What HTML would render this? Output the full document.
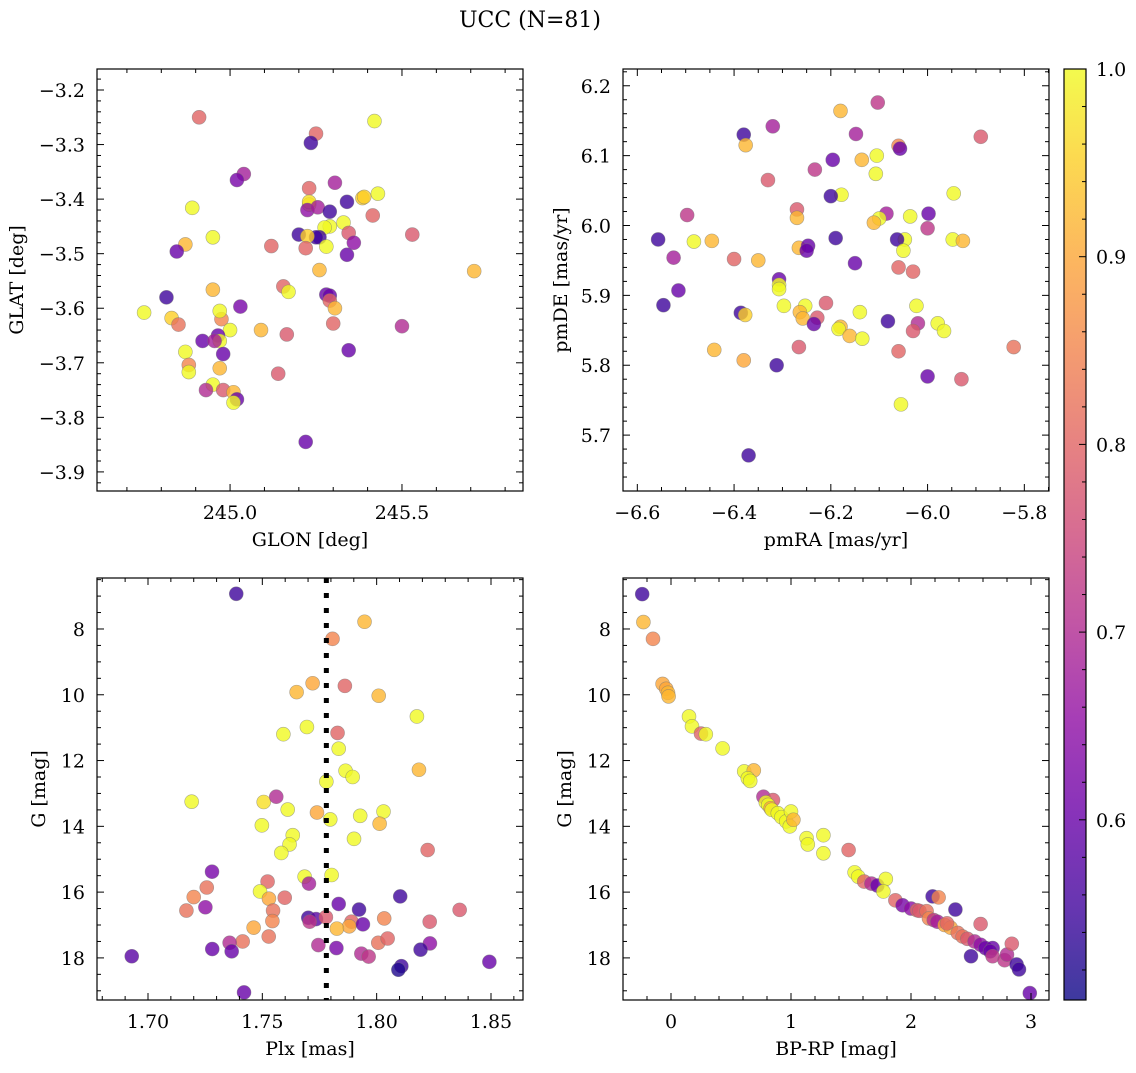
<!DOCTYPE html>
<html><head><meta charset="utf-8"><style>
html,body{margin:0;padding:0;background:#fff}
svg text{font-family:"DejaVu Serif","Liberation Serif",serif;fill:#000}
</style></head><body>
<svg id="fig" width="1136" height="1068" viewBox="0 0 1136 1068" xmlns="http://www.w3.org/2000/svg">
<text x="530" y="27" font-size="22" text-anchor="middle">UCC (N=81)</text>
<defs><linearGradient id="cbg" x1="0" y1="1" x2="0" y2="0"></linearGradient></defs>
</svg>
<script>
// ---------- data ----------
const p1Glon=[244.91,245.25,245.235,245.42,245.04,245.02,245.305,245.23,245.43,245.385,245.39,245.34,245.23,245.23,245.225,245.255,245.29,245.33,245.29,245.275,245.415,244.89,245.2,245.26,245.25,245.225,245.345,245.36,245.28,245.12,244.87,244.845,244.95,245.34,245.22,245.53,245.71,245.26,244.95,245.155,245.17,245.28,245.29,245.29,245.305,244.815,245.03,244.75,244.83,244.85,244.975,244.97,245.30,245.0,245.09,245.5,245.165,244.965,244.92,244.97,244.955,245.345,244.98,244.87,244.88,244.88,244.97,245.14,244.95,244.93,244.98,245.01,245.02,245.01,245.22];
const p1Glat=[-3.25,-3.28,-3.297,-3.257,-3.354,-3.365,-3.37,-3.38,-3.39,-3.398,-3.396,-3.405,-3.41,-3.405,-3.42,-3.415,-3.423,-3.443,-3.45,-3.452,-3.43,-3.416,-3.465,-3.47,-3.47,-3.468,-3.462,-3.48,-3.487,-3.486,-3.483,-3.496,-3.47,-3.502,-3.49,-3.465,-3.532,-3.53,-3.566,-3.56,-3.57,-3.575,-3.577,-3.586,-3.60,-3.58,-3.597,-3.608,-3.618,-3.63,-3.62,-3.605,-3.628,-3.64,-3.64,-3.633,-3.648,-3.65,-3.66,-3.66,-3.66,-3.677,-3.684,-3.68,-3.704,-3.717,-3.71,-3.72,-3.74,-3.75,-3.75,-3.754,-3.767,-3.773,-3.845];
const p1Prob=[0.8,0.8,0.55,1.0,0.68,0.62,0.68,0.8,1.0,0.95,0.95,0.55,1.0,0.97,0.65,0.68,0.55,1.0,1.0,1.0,0.8,1.0,0.55,0.55,0.55,0.95,0.78,0.65,1.0,0.8,0.92,0.6,1.0,0.6,0.8,0.78,0.92,0.92,0.92,0.8,1.0,0.6,0.6,0.8,0.92,0.55,0.62,1.0,0.95,0.82,0.85,1.0,0.8,1.0,0.92,0.7,0.78,0.6,0.6,1.0,0.68,0.6,0.6,1.0,0.85,1.0,0.92,0.78,1.0,0.7,0.78,0.92,0.6,1.0,0.6];

const p2Pmra=[-6.38,-6.376,-6.32,-6.18,-6.103,-5.89,-6.06,-6.057,-6.148,-6.105,-6.136,-6.196,-6.107,-6.233,-6.33,-6.178,-6.2,-5.946,-6.27,-6.27,-6.085,-6.036,-5.998,-6.1,-6.111,-6.0,-6.497,-6.557,-6.483,-6.446,-6.047,-5.948,-5.927,-6.19,-6.063,-6.266,-6.247,-6.25,-6.05,-6.525,-6.4,-6.35,-6.15,-6.06,-6.03,-6.515,-6.307,-6.307,-6.307,-6.546,-6.297,-6.21,-6.253,-6.264,-6.14,-6.023,-6.386,-6.377,-6.258,-6.228,-6.235,-6.082,-6.02,-5.979,-6.03,-5.966,-6.18,-6.184,-6.161,-6.135,-6.266,-5.822,-6.441,-6.06,-6.38,-6.312,-6.0,-5.93,-6.055,-6.37];
const p2Pmde=[6.13,6.115,6.142,6.164,6.176,6.127,6.114,6.11,6.131,6.10,6.094,6.094,6.074,6.08,6.065,6.044,6.042,6.046,6.023,6.011,6.017,6.013,6.017,6.01,6.004,5.996,6.015,5.98,5.977,5.978,5.98,5.98,5.978,5.982,5.98,5.968,5.971,5.964,5.964,5.954,5.952,5.95,5.946,5.94,5.934,5.907,5.923,5.915,5.909,5.886,5.885,5.889,5.885,5.876,5.876,5.885,5.875,5.872,5.867,5.868,5.859,5.863,5.86,5.86,5.849,5.849,5.855,5.852,5.842,5.838,5.826,5.826,5.822,5.82,5.807,5.80,5.784,5.78,5.744,5.671];
const p2Prob=[0.55,0.92,0.68,0.92,0.72,0.78,0.85,0.6,0.68,1.0,0.92,0.6,1.0,0.72,0.78,1.0,0.55,1.0,0.78,0.92,0.68,1.0,0.6,1.0,0.92,0.72,0.72,0.55,1.0,0.92,1.0,1.0,0.92,0.55,0.55,0.92,0.6,0.6,1.0,0.68,0.8,0.92,0.6,0.8,0.8,0.6,0.6,1.0,1.0,0.55,1.0,0.78,1.0,0.92,1.0,1.0,0.55,0.95,0.92,0.78,0.6,0.55,0.7,1.0,0.78,1.0,0.92,1.0,0.92,1.0,0.78,0.82,0.92,0.8,0.9,0.55,0.6,0.78,1.0,0.55];

const p3Plx=[1.7386,1.7947,1.7807,1.772,1.7861,1.765,1.8009,1.8176,1.7695,1.7592,1.7829,1.7834,1.8185,1.7864,1.7895,1.778,1.7191,1.7506,1.7561,1.7611,1.7739,1.7797,1.7928,1.803,1.8013,1.7498,1.7633,1.7619,1.7583,1.7901,1.8223,1.728,1.7685,1.7803,1.7704,1.7523,1.749,1.7257,1.72,1.7529,1.7598,1.8103,1.7251,1.7168,1.7547,1.7834,1.7923,1.8363,1.7544,1.7701,1.7735,1.7707,1.7778,1.789,1.788,1.7826,1.794,1.8033,1.8232,1.7462,1.7528,1.7414,1.7357,1.7281,1.7366,1.7745,1.7824,1.8007,1.8048,1.7933,1.7965,1.8233,1.8192,1.6929,1.8493,1.8108,1.8095,1.742];
const p3G=[6.93,7.78,8.30,9.65,9.73,9.92,10.03,10.66,10.98,11.20,11.16,11.64,12.28,12.31,12.50,12.64,13.25,13.26,13.10,13.49,13.58,13.79,13.68,13.55,13.92,13.97,14.27,14.55,14.81,14.38,14.72,15.38,15.53,15.48,15.74,15.68,15.98,15.86,16.15,16.20,16.17,16.13,16.46,16.56,16.56,16.36,16.53,16.54,16.88,16.78,16.82,16.90,16.76,16.90,17.04,17.11,16.98,16.80,16.90,17.08,17.35,17.50,17.54,17.73,17.80,17.61,17.70,17.54,17.41,17.87,17.96,17.56,17.75,17.95,18.12,18.25,18.36,19.05];
const p3Prob=[0.55,0.92,0.85,0.9,0.8,0.92,0.92,1.0,1.0,1.0,0.8,1.0,0.92,1.0,1.0,1.0,1.0,0.97,0.7,1.0,0.9,1.0,1.0,1.0,0.92,1.0,1.0,1.0,1.0,1.0,0.8,0.62,1.0,1.0,0.68,0.8,1.0,0.82,0.85,0.9,0.8,0.55,0.65,0.82,0.82,0.6,0.55,0.78,0.85,0.55,0.58,0.72,0.78,0.8,0.9,0.92,0.6,0.85,0.78,0.9,0.82,0.82,0.7,0.6,0.6,0.7,0.62,0.82,0.8,0.7,0.72,0.65,0.55,0.58,0.6,0.55,0.52,0.6];
const plxMean=1.778;

const p4Bprp=[-0.24,-0.23,-0.15,-0.07,-0.04,-0.025,-0.02,0.15,0.175,0.25,0.29,0.43,0.61,0.69,0.64,0.66,0.77,0.85,0.79,0.81,0.83,0.84,0.89,0.92,0.96,0.99,1.0,1.02,1.27,1.13,1.14,1.27,1.48,1.53,1.56,1.61,1.67,1.72,1.79,1.77,1.87,1.93,2.0,2.05,2.07,2.13,2.18,2.23,2.37,2.15,2.19,2.22,2.28,2.33,2.3,2.39,2.43,2.47,2.53,2.58,2.62,2.58,2.5,2.68,2.66,2.68,2.78,2.8,2.84,2.88,2.9,2.99];
const p4G=[6.94,7.79,8.30,9.67,9.82,9.94,10.05,10.66,10.96,11.18,11.2,11.63,12.33,12.30,12.54,12.62,13.1,13.2,13.27,13.35,13.45,13.5,13.6,13.72,13.85,14.0,13.55,13.8,14.27,14.36,14.55,14.82,14.72,15.4,15.53,15.68,15.74,15.8,15.6,15.98,16.25,16.4,16.5,16.55,16.57,16.58,16.13,16.16,16.53,16.8,16.85,16.9,17.0,17.08,16.95,17.24,17.35,17.42,17.5,17.6,17.7,16.97,17.95,17.7,17.8,17.95,18.07,17.9,17.57,18.2,18.35,19.07];
const p4Prob=[0.55,0.92,0.85,0.9,0.9,0.92,0.92,1.0,1.0,0.8,1.0,1.0,1.0,0.92,1.0,1.0,0.7,0.78,1.0,1.0,0.9,1.0,1.0,1.0,1.0,1.0,1.0,0.92,1.0,1.0,1.0,1.0,0.8,1.0,1.0,0.8,0.7,0.6,1.0,1.0,0.8,0.62,0.65,0.8,0.78,0.82,0.55,0.85,0.55,0.85,0.72,0.68,0.9,0.9,0.8,0.82,0.82,0.78,0.7,0.65,0.6,0.78,0.55,0.6,0.6,0.72,0.72,0.7,0.78,0.55,0.55,0.6];

const cbMin=0.504, cbMax=1.0;
const cbTicks=[0.6,0.7,0.8,0.9,1.0];

// ---------- helpers ----------
const NS="http://www.w3.org/2000/svg";
const svg=document.getElementById('fig');
const FS=19;
function mk(tag,attrs,parent){const e=document.createElementNS(NS,tag);for(const k in attrs)e.setAttribute(k,attrs[k]);(parent||svg).appendChild(e);return e;}
const plasma=[[13,8,135],[65,4,157],[106,0,168],[143,13,164],[177,42,144],[204,71,120],[225,100,98],[242,132,75],[252,166,54],[252,206,37],[240,249,33]];
function cmap(p){let t=(p-cbMin)/(cbMax-cbMin);t=Math.max(0,Math.min(1,t))*10;const i=Math.min(9,Math.floor(t)),f=t-i;const a=plasma[i],b=plasma[i+1];return 'rgb('+a.map((v,k)=>Math.round(v+(b[k]-v)*f)).join(',')+')';}
function fmt(v,d){return (v<0?'\u2212':'')+Math.abs(v).toFixed(d);}

function panel(o){
  const g=mk('g',{});
  
  
  const X=v=>o.L+(v-o.x0)/(o.x1-o.x0)*(o.R-o.L);
  const Y=v=>o.B-(v-o.y0)/(o.y1-o.y0)*(o.B-o.T);
  const pg=mk('g',{},g);
  
  
  for(let i=0;i<o.xs.length;i++){
    const c=mk('circle',{cx:X(o.xs[i]),cy:Y(o.ys[i]),r:7,fill:cmap(o.ps[i]),'fill-opacity':0.8,stroke:'#777','stroke-opacity':0.6,'stroke-width':0.6},pg);
    
    
  }
  if(o.vline!==undefined){
    const l=mk('line',{x1:X(o.vline),x2:X(o.vline),y1:o.T,y2:o.B,stroke:'#000','stroke-width':5,'stroke-dasharray':'5,10'},g);
    
    
  }
  const tg=mk('g',{stroke:'#000','stroke-width':1},g);
  
  
  const eps=1e-9;
  const lo=Math.min(o.x0,o.x1),hi=Math.max(o.x0,o.x1);
  for(let v=Math.ceil(lo/o.xmin-eps)*o.xmin;v<=hi+eps;v+=o.xmin){
    const maj=Math.abs(v/o.xmaj-Math.round(v/o.xmaj))<1e-6;const len=maj?7:4;const x=X(v);
    mk('line',{x1:x,x2:x,y1:o.B,y2:o.B-len},tg);mk('line',{x1:x,x2:x,y1:o.T,y2:o.T+len},tg);
  }
  const ylo=Math.min(o.y0,o.y1),yhi=Math.max(o.y0,o.y1);
  for(let v=Math.ceil(ylo/o.ymin-eps)*o.ymin;v<=yhi+eps;v+=o.ymin){
    const maj=Math.abs(v/o.ymaj-Math.round(v/o.ymaj))<1e-6;const len=maj?7:4;const y=Y(v);
    mk('line',{x1:o.L,x2:o.L+len,y1:y,y2:y},tg);mk('line',{x1:o.R,x2:o.R-len,y1:y,y2:y},tg);
  }
  o.xt.forEach(v=>{const t=mk('text',{x:X(v),y:o.B+28,'font-size':FS,'text-anchor':'middle'},g);t.textContent=fmt(v,o.xd);
    });
  o.yt.forEach(v=>{const t=mk('text',{x:o.L-12,y:Y(v)+7,'font-size':FS,'text-anchor':'end'},g);t.textContent=fmt(v,o.yd);
    });
  const fr=mk('rect',{x:o.L,y:o.T,width:o.R-o.L,height:o.B-o.T,fill:'none',stroke:'#000','stroke-width':1.2},g);
  
  const xl=mk('text',{x:(o.L+o.R)/2,y:o.B+55,'font-size':FS,'text-anchor':'middle'},g);xl.textContent=o.xlabel;
  
  const yl=mk('text',{x:o.ylx,y:(o.T+o.B)/2,'font-size':FS,'text-anchor':'middle',transform:'rotate(-90 '+o.ylx+' '+(o.T+o.B)/2+')'},g);yl.textContent=o.ylabel;
  
}

panel({name:'glon-glat-panel',L:97,R:523,T:69,B:491,x0:244.613,x1:245.852,y0:-3.935,y1:-3.1615,xs:p1Glon,ys:p1Glat,ps:p1Prob,
  xmaj:0.5,xmin:0.1,ymaj:0.1,ymin:0.02,xt:[245.0,245.5],xd:1,yt:[-3.2,-3.3,-3.4,-3.5,-3.6,-3.7,-3.8,-3.9],yd:1,xlabel:'GLON [deg]',ylabel:'GLAT [deg]',ylx:23});
panel({name:'pm-panel',L:623,R:1049,T:69,B:491,x0:-6.6296,x1:-5.749,y0:5.62,y1:6.224,xs:p2Pmra,ys:p2Pmde,ps:p2Prob,
  xmaj:0.2,xmin:0.05,ymaj:0.1,ymin:0.02,xt:[-6.6,-6.4,-6.2,-6.0,-5.8],xd:1,yt:[5.7,5.8,5.9,6.0,6.1,6.2],yd:1,xlabel:'pmRA [mas/yr]',ylabel:'pmDE [mas/yr]',ylx:567});
panel({name:'plx-g-panel',L:97,R:523,T:578,B:1000,x0:1.6777,x1:1.864,y0:19.28,y1:6.45,xs:p3Plx,ys:p3G,ps:p3Prob,vline:plxMean,
  xmaj:0.05,xmin:0.01,ymaj:2,ymin:0.5,xt:[1.70,1.75,1.80,1.85],xd:2,yt:[8,10,12,14,16,18],yd:0,xlabel:'Plx [mas]',ylabel:'G [mag]',ylx:45});
panel({name:'cmd-panel',L:623,R:1049,T:578,B:1000,x0:-0.4,x1:3.15,y0:19.28,y1:6.45,xs:p4Bprp,ys:p4G,ps:p4Prob,
  xmaj:1,xmin:0.2,ymaj:2,ymin:0.5,xt:[0,1,2,3],xd:0,yt:[8,10,12,14,16,18],yd:0,xlabel:'BP-RP [mag]',ylabel:'G [mag]',ylx:571});

// colorbar
const grad=document.getElementById('cbg');
for(let k=0;k<=10;k++){mk('stop',{offset:k/10,'stop-color':'rgb('+plasma[k].join(',')+')','stop-opacity':0.8},grad);}
const cg=mk('g',{});


const cT=69,cB=1000,cL=1064,cR=1086;
const CY=v=>cB-(v-cbMin)/(cbMax-cbMin)*(cB-cT);
mk('rect',{x:cL,y:cT,width:cR-cL,height:cB-cT,fill:'url(#cbg)',stroke:'#000','stroke-width':1.2},cg);
for(let v=0.52;v<=1.0001;v+=0.02){const maj=Math.abs(v*10-Math.round(v*10))<1e-6;const y=CY(v);mk('line',{x1:cR,x2:cR-(maj?7:4),y1:y,y2:y,stroke:'#000','stroke-width':1},cg);}
cbTicks.forEach(v=>{const t=mk('text',{x:cR+10,y:CY(v)+7,'font-size':FS},cg);t.textContent=v.toFixed(1);
  });
</script>
</body></html>
